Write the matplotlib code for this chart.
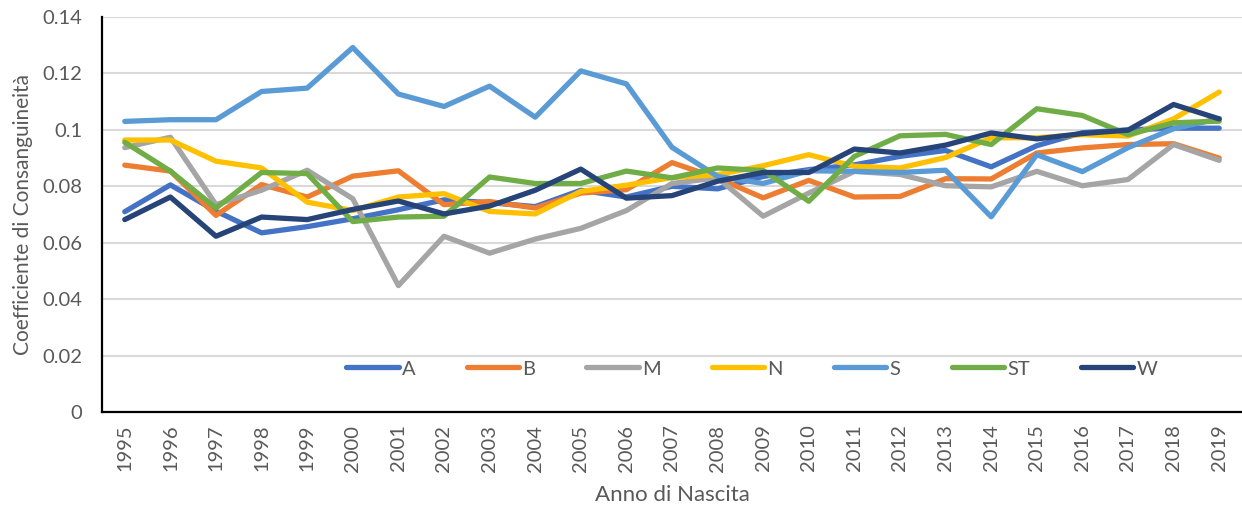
import numpy as np
import matplotlib
matplotlib.use('Agg')
import matplotlib.pyplot as plt

plt.rcParams['font.family'] = ['Lato', 'DejaVu Sans']

years = [str(y) for y in range(1995, 2020)]

A = [0.0710, 0.0805, 0.0712, 0.0635, 0.0657, 0.0685, 0.0717, 0.0752, 0.0742, 0.0728,
     0.0786, 0.0762, 0.0800, 0.0791, 0.0835, 0.0859, 0.0876, 0.0906, 0.0927, 0.0869,
     0.0944, 0.0990, 0.1000, 0.1006, 0.1006]
B = [0.0875, 0.0854, 0.0697, 0.0806, 0.0762, 0.0836, 0.0855, 0.0735, 0.0746, 0.0723,
     0.0776, 0.0788, 0.0884, 0.0829, 0.0759, 0.0821, 0.0762, 0.0764, 0.0827, 0.0826,
     0.0918, 0.0936, 0.0948, 0.0951, 0.0900]
M = [0.0937, 0.0974, 0.0735, 0.0786, 0.0857, 0.0756, 0.0448, 0.0623, 0.0563, 0.0613,
     0.0651, 0.0714, 0.0810, 0.0830, 0.0694, 0.0776, 0.0853, 0.0842, 0.0802, 0.0798,
     0.0853, 0.0802, 0.0824, 0.0948, 0.0892]
N = [0.0964, 0.0964, 0.0889, 0.0865, 0.0744, 0.0714, 0.0762, 0.0774, 0.0711, 0.0702,
     0.0782, 0.0804, 0.0831, 0.0841, 0.0873, 0.0912, 0.0871, 0.0865, 0.0902, 0.0972,
     0.0972, 0.0983, 0.0978, 0.1039, 0.1134]
S = [0.1030, 0.1036, 0.1036, 0.1136, 0.1148, 0.1292, 0.1127, 0.1083, 0.1155, 0.1045,
     0.1209, 0.1163, 0.0938, 0.0835, 0.0810, 0.0855, 0.0853, 0.0849, 0.0857, 0.0692,
     0.0912, 0.0852, 0.0937, 0.1004, 0.1040]
ST = [0.0956, 0.0854, 0.0723, 0.0849, 0.0845, 0.0675, 0.0691, 0.0694, 0.0833, 0.0810,
      0.0810, 0.0854, 0.0830, 0.0865, 0.0856, 0.0747, 0.0906, 0.0979, 0.0984, 0.0948,
      0.1075, 0.1051, 0.0983, 0.1025, 0.1031]
W = [0.0682, 0.0762, 0.0623, 0.0691, 0.0682, 0.0718, 0.0748, 0.0702, 0.0730, 0.0786,
     0.0861, 0.0758, 0.0767, 0.0818, 0.0849, 0.0849, 0.0932, 0.0918, 0.0946, 0.0989,
     0.0968, 0.0987, 0.0999, 0.1090, 0.1039]

series = {'A': A, 'B': B, 'M': M, 'N': N, 'S': S, 'ST': ST, 'W': W}
colors = {'A': '#4472C4', 'B': '#ED7D31', 'M': '#A5A5A5', 'N': '#FFC000',
          'S': '#5B9BD5', 'ST': '#70AD47', 'W': '#264478'}

fig = plt.figure(figsize=(12.42, 5.11), dpi=100)
ax = fig.add_axes([0.0821, 0.1937, 0.9179, 0.773])

x = np.arange(len(years))
for name, vals in series.items():
    ax.plot(x, vals, color=colors[name], linewidth=3.8, label=name,
            solid_capstyle='round', solid_joinstyle='round')

ax.set_xlim(-0.5, len(years) - 0.5)
ax.set_ylim(0, 0.14)
ax.set_yticks(np.arange(0, 0.141, 0.02))
ax.set_yticklabels(['0', '0.02', '0.04', '0.06', '0.08', '0.1', '0.12', '0.14'])
ax.set_xticks(x)
ax.set_xticklabels(years, rotation=90)

ax.grid(axis='y', color='#D9D9D9', linewidth=1.5)
ax.set_axisbelow(True)
for side in ['top', 'right']:
    ax.spines[side].set_visible(False)
for side in ['left', 'bottom']:
    ax.spines[side].set_color('black')
    ax.spines[side].set_linewidth(1.6)
ax.tick_params(axis='both', length=0, labelsize=14.5, labelcolor='#595959')
ax.tick_params(axis='y', pad=14)
ax.tick_params(axis='x', pad=9)

ax.set_xlabel('Anno di Nascita', fontsize=16, color='#595959', labelpad=10)
ax.set_ylabel('Coefficiente di Consanguineità', fontsize=15, color='#595959', labelpad=7)

leg = ax.legend(ncol=7, loc='center', bbox_to_anchor=(0.57, 0.109), frameon=False,
                fontsize=14.5, handlelength=2.6, handletextpad=0.15, columnspacing=2.55,
                labelcolor='#595959')

fig.savefig('out.png', dpi=100)
